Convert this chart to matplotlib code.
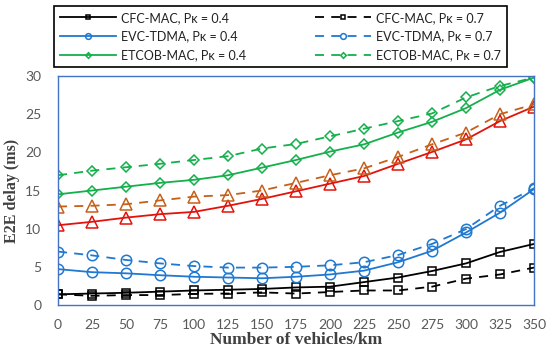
import matplotlib
matplotlib.use("Agg")
import matplotlib.pyplot as plt

vehicles = [0, 25, 50, 75, 100, 125, 150, 175, 200, 225, 250, 275, 300, 325, 350]

cfc_04 = [1.4, 1.5, 1.6, 1.75, 1.9, 2.0, 2.1, 2.3, 2.4, 3.0, 3.6, 4.45, 5.45, 6.95, 8.0]
cfc_07 = [1.4, 1.2, 1.3, 1.3, 1.45, 1.5, 1.65, 1.5, 1.7, 1.9, 1.9, 2.4, 3.45, 4.0, 4.9]
evc_04 = [4.7, 4.3, 4.15, 3.9, 3.7, 3.6, 3.5, 3.7, 4.0, 4.5, 5.6, 7.1, 9.5, 12.1, 15.2]
evc_07 = [7.0, 6.5, 5.9, 5.45, 5.1, 4.9, 4.9, 5.0, 5.2, 5.6, 6.55, 8.0, 9.95, 13.0, 15.3]
red_04 = [10.45, 10.9, 11.45, 11.9, 12.2, 13.0, 13.9, 14.9, 15.9, 16.9, 18.5, 20.05, 21.7, 24.1, 26.0]
brown_07 = [12.9, 13.0, 13.2, 13.7, 14.2, 14.4, 15.0, 16.0, 17.0, 17.9, 19.4, 21.05, 22.6, 25.0, 26.3]
etcob_04 = [14.5, 15.0, 15.5, 16.0, 16.4, 17.0, 18.0, 19.0, 20.1, 21.05, 22.6, 24.0, 25.8, 28.2, 29.8]
ectob_07 = [17.0, 17.6, 18.05, 18.5, 19.0, 19.5, 20.5, 21.1, 22.1, 23.1, 24.1, 25.1, 27.2, 28.7, 29.8]

labels = ["CFC-MAC, Pκ = 0.4", "CFC-MAC, Pκ = 0.7",
          "EVC-TDMA, Pκ = 0.4", "EVC-TDMA, Pκ = 0.7",
          "ETCOB-MAC, Pκ = 0.4", "ECTOB-MAC, Pκ = 0.7"]
xticks = [0, 25, 50, 75, 100, 125, 150, 175, 200, 225, 250, 275, 300, 325, 350]
yticks = [0, 5, 10, 15, 20, 25, 30]

BLACK = "#000000"
BLUE = "#1F78D1"
GREEN = "#13B04C"
RED = "#E3120B"
BROWN = "#C5601A"
SPINE = "#4472C4"

fig = plt.figure(figsize=(5.5, 3.57), dpi=100)
ax = fig.add_axes([0.1055, 0.1457, 0.8655, 0.6413])

lw = 1.3
h = {}
h["cfc04"], = ax.plot(vehicles, cfc_04, '-', color=BLACK, lw=lw, marker='s', ms=6, mfc='none', mew=1.1)
h["cfc07"], = ax.plot(vehicles, cfc_07, '--', color=BLACK, lw=lw, marker='s', ms=6, mfc='none', mew=1.1, dashes=(5, 4))
h["evc04"], = ax.plot(vehicles, evc_04, '-', color=BLUE, lw=lw, marker='o', ms=7.5, mfc='none', mew=1.1)
h["evc07"], = ax.plot(vehicles, evc_07, '--', color=BLUE, lw=lw, marker='o', ms=7.5, mfc='none', mew=1.1, dashes=(5, 4))
ax.plot(vehicles, red_04, '-', color=RED, lw=lw, marker='^', ms=8, mfc='none', mew=1.1)
ax.plot(vehicles, brown_07, '--', color=BROWN, lw=lw, marker='^', ms=8, mfc='none', mew=1.1, dashes=(5, 4))
h["et04"], = ax.plot(vehicles, etcob_04, '-', color=GREEN, lw=lw, marker='D', ms=5.2, mfc='none', mew=1.1)
h["ec07"], = ax.plot(vehicles, ectob_07, '--', color=GREEN, lw=lw, marker='D', ms=5.2, mfc='none', mew=1.1, dashes=(5, 4))

ax.set_xlim(0, 350)
ax.set_ylim(0, 30)
ax.set_xticks(xticks)
ax.set_yticks(yticks)
ax.tick_params(length=0, labelsize=10, labelcolor="#595959")
ax.tick_params(axis='x', pad=10)
ax.tick_params(axis='y', pad=12)
for lab in ax.get_xticklabels() + ax.get_yticklabels():
    lab.set_family("Lato")
for s in ax.spines.values():
    s.set_color(SPINE)
    s.set_linewidth(1.0)

ax.set_xlabel("Number of vehicles/km", family="Liberation Serif", fontweight="bold", fontsize=12.5, color="#404040", labelpad=1)
ax.set_ylabel("E2E delay (ms)", family="Liberation Serif", fontweight="bold", fontsize=11.5, color="#404040", labelpad=4)

handles = [h["cfc04"], h["cfc07"], h["evc04"], h["evc07"], h["et04"], h["ec07"]]
order_h = [handles[0], handles[2], handles[4], handles[1], handles[3], handles[5]]
order_l = [labels[0], labels[2], labels[4], labels[1], labels[3], labels[5]]
leg = fig.legend(order_h, order_l, ncol=2, loc='upper left',
                 bbox_to_anchor=(0.098, 0.983, 0.824, 0.0), mode='expand',
                 frameon=True, fancybox=False, edgecolor='black', framealpha=1,
                 prop={'family': 'Lato', 'size': 9}, handlelength=4.5,
                 markerscale=0.55, labelspacing=0.55, borderaxespad=0,
                 borderpad=0.45, handletextpad=0.4, columnspacing=1.0)
leg.get_frame().set_linewidth(1.2)
for t in leg.get_texts():
    t.set_color("#222222")

fig.savefig("out.png", dpi=100)
